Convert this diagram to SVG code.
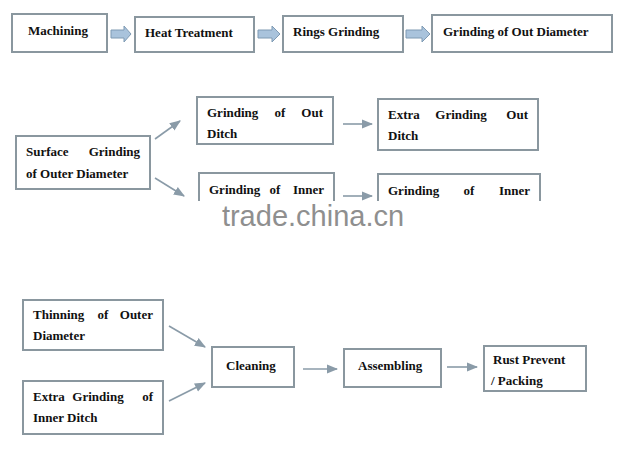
<svg xmlns="http://www.w3.org/2000/svg" width="626" height="450" viewBox="0 0 626 450">
<style>
.b{fill:#fff;stroke:#8a979f;stroke-width:2}
.t{font-family:"Liberation Serif",serif;font-size:13px;fill:#111;font-weight:bold}
.r{text-anchor:end}
.m{text-anchor:middle}
.c{stroke:#8a9ba8;stroke-width:1.6;fill:none}
.ba{fill:#a9c3dc;stroke:#7f9ab3;stroke-width:1}
</style>
<defs><marker id="a" viewBox="0 0 10 10" refX="9" refY="5" markerWidth="7" markerHeight="7" orient="auto"><path d="M0,1 L10,5 L0,9 z" fill="#8a9ba8"/></marker></defs>
<rect width="626" height="450" fill="#fff"/>
<g id="n1"><rect class="b" x="12" y="14" width="95" height="38"/><text class="t" x="28" y="35">Machining</text></g>
<g id="n2"><rect class="b" x="135" y="17" width="119" height="35"/><text class="t" x="145" y="37">Heat Treatment</text></g>
<g id="n3"><rect class="b" x="283" y="16" width="120" height="36"/><text class="t" x="293" y="36">Rings Grinding</text></g>
<g id="n4"><rect class="b" x="432" y="15" width="180" height="37"/><text class="t" x="443" y="36">Grinding of Out Diameter</text></g>
<g id="n5"><rect class="b" x="16" y="136" width="134" height="53"/><text class="t" x="26" y="156">Surface</text><text class="t r" x="140" y="156">Grinding</text><text class="t" x="26" y="178">of Outer Diameter</text></g>
<g id="n6"><rect class="b" x="197" y="97" width="136" height="47"/><text class="t" x="207" y="117">Grinding</text><text class="t m" x="280" y="117">of</text><text class="t r" x="323" y="117">Out</text><text class="t" x="207" y="138">Ditch</text></g>
<g id="n7"><rect class="b" x="378" y="99" width="160" height="51"/><text class="t" x="388" y="119">Extra</text><text class="t m" x="461" y="119">Grinding</text><text class="t r" x="528" y="119">Out</text><text class="t" x="388" y="140">Ditch</text></g>
<g id="n8"><rect class="b" x="199" y="173" width="135" height="50"/><text class="t" x="209" y="194">Grinding</text><text class="t m" x="275" y="194">of</text><text class="t r" x="324" y="194">Inner</text></g>
<g id="n9"><rect class="b" x="378" y="174" width="162" height="50"/><text class="t" x="388" y="195">Grinding</text><text class="t m" x="469" y="195">of</text><text class="t r" x="530" y="195">Inner</text></g>
<g id="n10"><rect class="b" x="23" y="300" width="140" height="50"/><text class="t" x="33" y="319">Thinning</text><text class="t m" x="103" y="319">of</text><text class="t r" x="153" y="319">Outer</text><text class="t" x="33" y="340">Diameter</text></g>
<g id="n11"><rect class="b" x="23" y="381" width="140" height="53"/><text class="t" x="33" y="401">Extra</text><text class="t m" x="98" y="401">Grinding</text><text class="t r" x="153" y="401">of</text><text class="t" x="33" y="422">Inner Ditch</text></g>
<g id="n12"><rect class="b" x="212" y="347" width="82" height="40"/><text class="t" x="226" y="370">Cleaning</text></g>
<g id="n13"><rect class="b" x="344" y="349" width="97" height="38"/><text class="t" x="358" y="370">Assembling</text></g>
<g id="n14"><rect class="b" x="484" y="346" width="102" height="45"/><text class="t" x="493" y="364">Rust Prevent</text><text class="t" x="491" y="385">/ Packing</text></g>
<g id="connectors">
<path class="ba" d="M111,30 H124 V26 L131,34 L124,42 V38 H111 z"/>
<path class="ba" d="M258,30 H272 V26 L280,34 L272,42 V38 H258 z"/>
<path class="ba" d="M406,30 H422 V26 L430,34 L422,42 V38 H406 z"/>
<line class="c" x1="155" y1="139" x2="180" y2="121" marker-end="url(#a)"/>
<line class="c" x1="155" y1="178" x2="184" y2="196" marker-end="url(#a)"/>
<line class="c" x1="343" y1="124" x2="372" y2="124" marker-end="url(#a)"/>
<line class="c" x1="343" y1="196" x2="372" y2="196" marker-end="url(#a)"/>
<line class="c" x1="169" y1="326" x2="205" y2="347" marker-end="url(#a)"/>
<line class="c" x1="169" y1="401" x2="205" y2="383" marker-end="url(#a)"/>
<line class="c" x1="303" y1="369" x2="337" y2="369" marker-end="url(#a)"/>
<line class="c" x1="447" y1="367" x2="477" y2="367" marker-end="url(#a)"/>
</g>
<rect x="0" y="201" width="626" height="40" fill="#fff"/>
<text x="313" y="226" text-anchor="middle" font-family="Liberation Sans,sans-serif" font-size="29" fill="#8f8f8f">trade.china.cn</text>
</svg>
